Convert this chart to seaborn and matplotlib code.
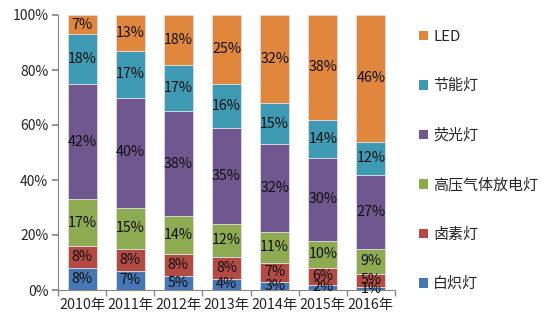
import matplotlib
matplotlib.use("Agg")
import matplotlib.pyplot as plt
import seaborn as sns
import numpy as np
import pandas as pd
from matplotlib.patches import Patch

years = ["2010年", "2011年", "2012年", "2013年", "2014年", "2015年", "2016年"]
series_names = ["白炽灯", "卤素灯", "高压气体放电灯", "荧光灯", "节能灯", "LED"]
incandescent = [8, 7, 5, 4, 3, 2, 1]
halogen = [8, 8, 8, 8, 7, 6, 5]
hid = [17, 15, 14, 12, 11, 10, 9]
fluorescent = [42, 40, 38, 35, 32, 30, 27]
cfl = [18, 17, 17, 16, 15, 14, 12]
led = [7, 13, 18, 25, 32, 38, 46]

colors = ["#4677B4", "#B24A46", "#8EAB51", "#71578F", "#3E9AB3", "#E1873D"]

sns.set_theme(style="white")
plt.rcParams["font.family"] = ["Noto Sans CJK SC", "DejaVu Sans"]

fig = plt.figure(figsize=(5.47, 3.25), dpi=100)
ax = fig.add_axes([58/547, 1 - 290/325, (395 - 58)/547, (290 - 15)/325])

data = [incandescent, halogen, hid, fluorescent, cfl, led]
bottom = np.zeros(len(years))
for name, vals, c in zip(series_names, data, colors):
    df = pd.DataFrame({"year": years, "v": vals})
    sns.barplot(data=df, x="year", y="v", color=c, width=0.6, bottom=bottom,
                ax=ax, edgecolor="#dddddd", linewidth=0.6, saturation=1)
    for i, v in enumerate(vals):
        ax.text(i, bottom[i] + v / 2, f"{v}%", ha="center", va="center",
                fontsize=10.3, color="#111111")
    bottom = bottom + np.array(vals)

ax.set_ylim(0, 100)
ax.set_xlim(-0.5, len(years) - 0.5)
ax.set_yticks(range(0, 101, 20))
ax.set_yticklabels([f"{t}%" for t in range(0, 101, 20)], fontsize=10)
ax.set_xlabel("")
ax.set_ylabel("")
ax.tick_params(axis="x", which="major", length=0, labelsize=10.3, pad=6)
ax.set_xticks(np.arange(-0.5, len(years), 1), minor=True)
ax.tick_params(axis="x", which="minor", length=4, color="#888888", direction="out", bottom=True)
ax.tick_params(axis="y", length=4, color="#888888", direction="out", left=True, pad=3)
for s in ["top", "right"]:
    ax.spines[s].set_visible(False)
for s in ["left", "bottom"]:
    ax.spines[s].set_color("#888888")
    ax.spines[s].set_linewidth(0.8)

handles = [Patch(facecolor=c, edgecolor="none") for c in colors][::-1]
labels = series_names[::-1]
leg = fig.legend(handles, labels, loc="upper left", bbox_to_anchor=(413/547, 1 - 24/325),
                 frameon=False, fontsize=10.8, labelspacing=2.34, handlelength=0.6,
                 handleheight=0.6, handletextpad=0.35, borderaxespad=0)

fig.savefig("out.png", dpi=100)
